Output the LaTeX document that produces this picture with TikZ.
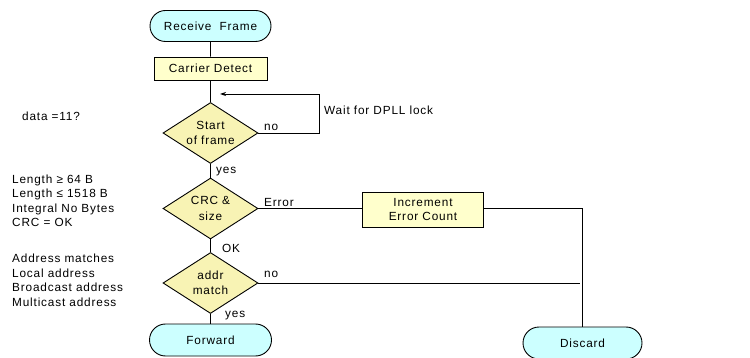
\documentclass[tikz,border=0pt]{standalone}
\usepackage{fontspec}
\setmainfont{Liberation Sans}[LetterSpace=7]
\usetikzlibrary{shapes.geometric,shapes.misc,arrows.meta}
\definecolor{termfill}{RGB}{204,255,255}
\definecolor{procfill}{RGB}{255,255,204}
\definecolor{decfill}{RGB}{248,243,180}
\tikzset{
  txt/.style={font=\fontsize{11.8}{14.5}\selectfont},
  base/.style={draw=black,line width=0.9pt,inner sep=1pt,txt},
  terminal/.style={base,rounded rectangle,fill=termfill,minimum height=31pt},
  process/.style={base,rectangle,fill=procfill,align=center},
  decision/.style={base,diamond,fill=decfill,aspect=1.55,minimum width=95pt,minimum height=61pt,inner sep=0pt,align=center},
  flow/.style={draw=black,line width=0.9pt},
  lbl/.style={inner sep=0pt,anchor=west,txt},
  note/.style={inner sep=0pt,anchor=west,align=left,txt}
}
\begin{document}
\begin{tikzpicture}[x=1pt,y=-1pt]
\useasboundingbox (0,0) rectangle (750,358);

% main column
\node[terminal,minimum width=123pt] (rf) at (210.5,26) {Receive\ \ Frame};
\node[process,minimum width=113pt,minimum height=23pt] (cd) at (210.5,68.5) {Carrier Detect};
\node[decision] (sof) at (210.5,133) {Start\\[1pt]of frame};
\node[decision] (crc) at (210.5,208.5) {CRC \&\\[1pt]size};
\node[decision] (am) at (210.5,283) {addr\\[1pt]match};
\node[terminal,minimum width=124pt,minimum height=32pt] (fwd) at (210.5,340) {Forward};

% error branch
\node[process,minimum width=121pt,minimum height=35pt] (iec) at (423,209.5) {Increment\\Error Count};
\node[terminal,minimum width=121pt,minimum height=32pt] (dis) at (582.5,343) {Discard};

% connectors
\draw[flow] (rf) -- (cd);
\draw[flow] (cd) -- (sof);
\draw[flow] (sof) -- (crc);
\draw[flow] (crc) -- (am);
\draw[flow] (am) -- (fwd);

\coordinate (looptop) at (319.5,94);
\coordinate (looptip) at (220,94);
\draw[flow,-{Stealth[length=6pt,width=4pt]}] (sof.east) -| (looptop) -- (looptip);

\draw[flow] (crc.east) -- (crc.east -| iec.west);
\draw[flow] (iec.east |- crc.east) -| (dis.north);
\coordinate (nojoin) at (580,283);
\draw[flow] (am.east) -- (nojoin);

% branch labels
\node[lbl] (l1) at (264,127) {no};
\node[lbl] (l2) at (216,172) {yes};
\node[lbl] (l3) at (264,202) {Error};
\node[lbl] (l4) at (222,248) {OK};
\node[lbl] (l5) at (264,274) {no};
\node[lbl] (l6) at (225,316) {yes};
\node[lbl] (wait) at (324,110) {Wait for DPLL lock};

% side notes
\node[note] (n1) at (22,116) {data =11?};
\node[note] (n2) at (12,201) {Length ≥ 64 B\\Length ≤ 1518 B\\Integral No Bytes\\CRC = OK};
\node[note] (n3) at (12,280.5) {Address matches\\Local address\\Broadcast address\\Multicast address};
\end{tikzpicture}
\end{document}
